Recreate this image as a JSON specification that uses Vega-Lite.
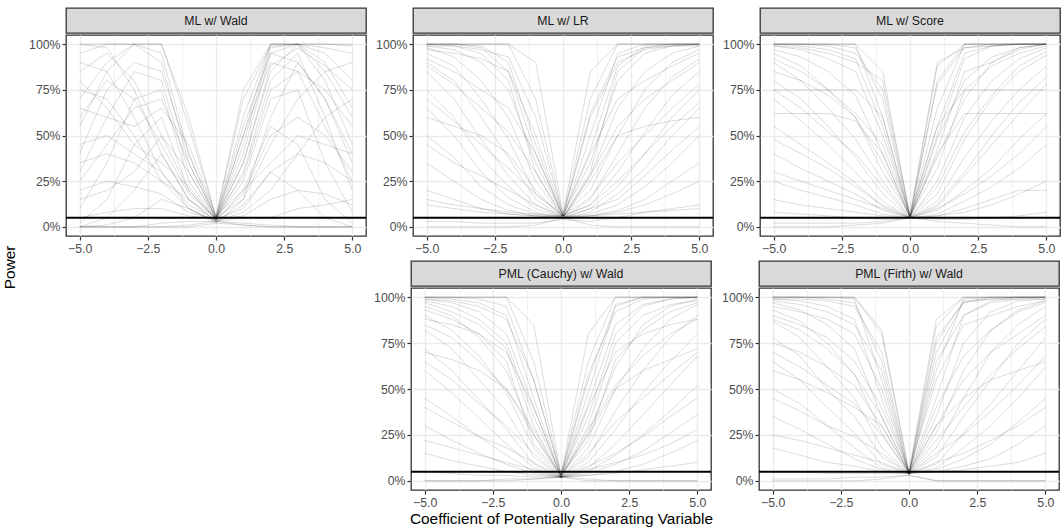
{
"$schema":"https://vega.github.io/schema/vega-lite/v6.json",
"padding":{"left":3,"top":7,"right":0,"bottom":0},
"config":{"font":"Liberation Sans","view":{"stroke":"#333333","strokeWidth":1.3},
"axis":{"domain":false,"tickColor":"#333333","tickSize":4,"tickWidth":1.2,"labelColor":"#4d4d4d","labelFontSize":12.3,"labelPadding":2,"gridColor":"#ebebeb","labelFlush":false,"labelOverlap":false,"titleFontWeight":"normal","titleColor":"#000000","titleFontSize":15.4,"titlePadding":3}},
"title":{"text":"Power","orient":"left","anchor":"middle","fontSize":15.4,"fontWeight":"normal","color":"#000000","offset":9},
"datasets":{
"d1":[
{"s":1,"x":-5,"y":100},{"s":1,"x":-4,"y":100},{"s":1,"x":-3,"y":100},{"s":1,"x":-2,"y":100},{"s":1,"x":-1,"y":55},{"s":1,"x":0,"y":5},{"s":1,"x":1,"y":60},{"s":1,"x":2,"y":100},{"s":1,"x":3,"y":100},{"s":1,"x":4,"y":100},{"s":1,"x":5,"y":99},
{"s":2,"x":-5,"y":70},{"s":2,"x":-4,"y":90},{"s":2,"x":-3,"y":100},{"s":2,"x":-2,"y":95},{"s":2,"x":-1,"y":40},{"s":2,"x":0,"y":4},{"s":2,"x":1,"y":45},{"s":2,"x":2,"y":98},{"s":2,"x":3,"y":100},{"s":2,"x":4,"y":95},{"s":2,"x":5,"y":80},
{"s":3,"x":-5,"y":30},{"s":3,"x":-4,"y":60},{"s":3,"x":-3,"y":85},{"s":3,"x":-2,"y":80},{"s":3,"x":-1,"y":30},{"s":3,"x":0,"y":5},{"s":3,"x":1,"y":35},{"s":3,"x":2,"y":85},{"s":3,"x":3,"y":100},{"s":3,"x":4,"y":80},{"s":3,"x":5,"y":45},
{"s":4,"x":-5,"y":10},{"s":4,"x":-4,"y":35},{"s":4,"x":-3,"y":70},{"s":4,"x":-2,"y":75},{"s":4,"x":-1,"y":25},{"s":4,"x":0,"y":4},{"s":4,"x":1,"y":30},{"s":4,"x":2,"y":80},{"s":4,"x":3,"y":95},{"s":4,"x":4,"y":60},{"s":4,"x":5,"y":20},
{"s":5,"x":-5,"y":2},{"s":5,"x":-4,"y":15},{"s":5,"x":-3,"y":45},{"s":5,"x":-2,"y":60},{"s":5,"x":-1,"y":20},{"s":5,"x":0,"y":4},{"s":5,"x":1,"y":25},{"s":5,"x":2,"y":70},{"s":5,"x":3,"y":75},{"s":5,"x":4,"y":35},{"s":5,"x":5,"y":8},
{"s":6,"x":-5,"y":0},{"s":6,"x":-4,"y":5},{"s":6,"x":-3,"y":20},{"s":6,"x":-2,"y":40},{"s":6,"x":-1,"y":15},{"s":6,"x":0,"y":3},{"s":6,"x":1,"y":20},{"s":6,"x":2,"y":55},{"s":6,"x":3,"y":45},{"s":6,"x":4,"y":15},{"s":6,"x":5,"y":2},
{"s":7,"x":-5,"y":0},{"s":7,"x":-4,"y":1},{"s":7,"x":-3,"y":5},{"s":7,"x":-2,"y":15},{"s":7,"x":-1,"y":10},{"s":7,"x":0,"y":3},{"s":7,"x":1,"y":12},{"s":7,"x":2,"y":30},{"s":7,"x":3,"y":20},{"s":7,"x":4,"y":5},{"s":7,"x":5,"y":0},
{"s":8,"x":-5,"y":0},{"s":8,"x":-4,"y":0},{"s":8,"x":-3,"y":0},{"s":8,"x":-2,"y":2},{"s":8,"x":-1,"y":3},{"s":8,"x":0,"y":3},{"s":8,"x":1,"y":2},{"s":8,"x":2,"y":1},{"s":8,"x":3,"y":0},{"s":8,"x":4,"y":0},{"s":8,"x":5,"y":0},
{"s":9,"x":-5,"y":0},{"s":9,"x":-4,"y":0},{"s":9,"x":-3,"y":0},{"s":9,"x":-2,"y":0},{"s":9,"x":-1,"y":1},{"s":9,"x":0,"y":3},{"s":9,"x":1,"y":1},{"s":9,"x":2,"y":0},{"s":9,"x":3,"y":0},{"s":9,"x":4,"y":0},{"s":9,"x":5,"y":0},
{"s":10,"x":-5,"y":95},{"s":10,"x":-4,"y":100},{"s":10,"x":-3,"y":100},{"s":10,"x":-2,"y":90},{"s":10,"x":-1,"y":35},{"s":10,"x":0,"y":5},{"s":10,"x":1,"y":50},{"s":10,"x":2,"y":100},{"s":10,"x":3,"y":100},{"s":10,"x":4,"y":100},{"s":10,"x":5,"y":100},
{"s":11,"x":-5,"y":85},{"s":11,"x":-4,"y":95},{"s":11,"x":-3,"y":80},{"s":11,"x":-2,"y":50},{"s":11,"x":-1,"y":20},{"s":11,"x":0,"y":4},{"s":11,"x":1,"y":40},{"s":11,"x":2,"y":95},{"s":11,"x":3,"y":90},{"s":11,"x":4,"y":70},{"s":11,"x":5,"y":40},
{"s":12,"x":-5,"y":60},{"s":12,"x":-4,"y":80},{"s":12,"x":-3,"y":70},{"s":12,"x":-2,"y":45},{"s":12,"x":-1,"y":18},{"s":12,"x":0,"y":5},{"s":12,"x":1,"y":28},{"s":12,"x":2,"y":75},{"s":12,"x":3,"y":85},{"s":12,"x":4,"y":75},{"s":12,"x":5,"y":55},
{"s":13,"x":-5,"y":45},{"s":13,"x":-4,"y":50},{"s":13,"x":-3,"y":40},{"s":13,"x":-2,"y":30},{"s":13,"x":-1,"y":12},{"s":13,"x":0,"y":4},{"s":13,"x":1,"y":18},{"s":13,"x":2,"y":50},{"s":13,"x":3,"y":60},{"s":13,"x":4,"y":50},{"s":13,"x":5,"y":30},
{"s":14,"x":-5,"y":20},{"s":14,"x":-4,"y":25},{"s":14,"x":-3,"y":22},{"s":14,"x":-2,"y":18},{"s":14,"x":-1,"y":8},{"s":14,"x":0,"y":4},{"s":14,"x":1,"y":10},{"s":14,"x":2,"y":30},{"s":14,"x":3,"y":40},{"s":14,"x":4,"y":35},{"s":14,"x":5,"y":25},
{"s":15,"x":-5,"y":5},{"s":15,"x":-4,"y":8},{"s":15,"x":-3,"y":10},{"s":15,"x":-2,"y":10},{"s":15,"x":-1,"y":6},{"s":15,"x":0,"y":4},{"s":15,"x":1,"y":6},{"s":15,"x":2,"y":15},{"s":15,"x":3,"y":20},{"s":15,"x":4,"y":18},{"s":15,"x":5,"y":12},
{"s":16,"x":-5,"y":75},{"s":16,"x":-4,"y":70},{"s":16,"x":-3,"y":50},{"s":16,"x":-2,"y":25},{"s":16,"x":-1,"y":10},{"s":16,"x":0,"y":3},{"s":16,"x":1,"y":8},{"s":16,"x":2,"y":20},{"s":16,"x":3,"y":40},{"s":16,"x":4,"y":60},{"s":16,"x":5,"y":70},
{"s":17,"x":-5,"y":100},{"s":17,"x":-4,"y":98},{"s":17,"x":-3,"y":75},{"s":17,"x":-2,"y":40},{"s":17,"x":-1,"y":15},{"s":17,"x":0,"y":5},{"s":17,"x":1,"y":15},{"s":17,"x":2,"y":45},{"s":17,"x":3,"y":70},{"s":17,"x":4,"y":85},{"s":17,"x":5,"y":90},
{"s":18,"x":-5,"y":40},{"s":18,"x":-4,"y":75},{"s":18,"x":-3,"y":90},{"s":18,"x":-2,"y":85},{"s":18,"x":-1,"y":40},{"s":18,"x":0,"y":6},{"s":18,"x":1,"y":70},{"s":18,"x":2,"y":99},{"s":18,"x":3,"y":100},{"s":18,"x":4,"y":98},{"s":18,"x":5,"y":95},
{"s":19,"x":-5,"y":90},{"s":19,"x":-4,"y":85},{"s":19,"x":-3,"y":60},{"s":19,"x":-2,"y":30},{"s":19,"x":-1,"y":10},{"s":19,"x":0,"y":2},{"s":19,"x":1,"y":1},{"s":19,"x":2,"y":0},{"s":19,"x":3,"y":0},{"s":19,"x":4,"y":0},{"s":19,"x":5,"y":0},
{"s":20,"x":-5,"y":0},{"s":20,"x":-4,"y":0},{"s":20,"x":-3,"y":0},{"s":20,"x":-2,"y":0},{"s":20,"x":-1,"y":0},{"s":20,"x":0,"y":2},{"s":20,"x":1,"y":15},{"s":20,"x":2,"y":60},{"s":20,"x":3,"y":90},{"s":20,"x":4,"y":70},{"s":20,"x":5,"y":35},
{"s":21,"x":-5,"y":55},{"s":21,"x":-4,"y":85},{"s":21,"x":-3,"y":100},{"s":21,"x":-2,"y":100},{"s":21,"x":-1,"y":60},{"s":21,"x":0,"y":5},{"s":21,"x":1,"y":75},{"s":21,"x":2,"y":100},{"s":21,"x":3,"y":100},{"s":21,"x":4,"y":90},{"s":21,"x":5,"y":65},
{"s":22,"x":-5,"y":25},{"s":22,"x":-4,"y":45},{"s":22,"x":-3,"y":65},{"s":22,"x":-2,"y":70},{"s":22,"x":-1,"y":35},{"s":22,"x":0,"y":5},{"s":22,"x":1,"y":55},{"s":22,"x":2,"y":95},{"s":22,"x":3,"y":100},{"s":22,"x":4,"y":85},{"s":22,"x":5,"y":60},
{"s":23,"x":-5,"y":80},{"s":23,"x":-4,"y":65},{"s":23,"x":-3,"y":45},{"s":23,"x":-2,"y":35},{"s":23,"x":-1,"y":22},{"s":23,"x":0,"y":4},{"s":23,"x":1,"y":35},{"s":23,"x":2,"y":88},{"s":23,"x":3,"y":98},{"s":23,"x":4,"y":88},{"s":23,"x":5,"y":75},
{"s":24,"x":-5,"y":15},{"s":24,"x":-4,"y":20},{"s":24,"x":-3,"y":30},{"s":24,"x":-2,"y":50},{"s":24,"x":-1,"y":30},{"s":24,"x":0,"y":4},{"s":24,"x":1,"y":50},{"s":24,"x":2,"y":90},{"s":24,"x":3,"y":85},{"s":24,"x":4,"y":55},{"s":24,"x":5,"y":25},
{"s":25,"x":-5,"y":65},{"s":25,"x":-4,"y":60},{"s":25,"x":-3,"y":55},{"s":25,"x":-2,"y":65},{"s":25,"x":-1,"y":45},{"s":25,"x":0,"y":6},{"s":25,"x":1,"y":20},{"s":25,"x":2,"y":35},{"s":25,"x":3,"y":50},{"s":25,"x":4,"y":45},{"s":25,"x":5,"y":40},
{"s":26,"x":-5,"y":35},{"s":26,"x":-4,"y":40},{"s":26,"x":-3,"y":35},{"s":26,"x":-2,"y":25},{"s":26,"x":-1,"y":15},{"s":26,"x":0,"y":3},{"s":26,"x":1,"y":5},{"s":26,"x":2,"y":5},{"s":26,"x":3,"y":10},{"s":26,"x":4,"y":12},{"s":26,"x":5,"y":15}
],
"d2":[
{"s":1,"x":-5,"y":100},{"s":1,"x":-4,"y":100},{"s":1,"x":-3,"y":100},{"s":1,"x":-2,"y":100},{"s":1,"x":-1,"y":70},{"s":1,"x":0,"y":6},{"s":1,"x":1,"y":70},{"s":1,"x":2,"y":100},{"s":1,"x":3,"y":100},{"s":1,"x":4,"y":100},{"s":1,"x":5,"y":100},
{"s":2,"x":-5,"y":100},{"s":2,"x":-4,"y":100},{"s":2,"x":-3,"y":99},{"s":2,"x":-2,"y":90},{"s":2,"x":-1,"y":45},{"s":2,"x":0,"y":5},{"s":2,"x":1,"y":50},{"s":2,"x":2,"y":95},{"s":2,"x":3,"y":100},{"s":2,"x":4,"y":100},{"s":2,"x":5,"y":100},
{"s":3,"x":-5,"y":99},{"s":3,"x":-4,"y":97},{"s":3,"x":-3,"y":90},{"s":3,"x":-2,"y":75},{"s":3,"x":-1,"y":35},{"s":3,"x":0,"y":6},{"s":3,"x":1,"y":35},{"s":3,"x":2,"y":80},{"s":3,"x":3,"y":95},{"s":3,"x":4,"y":99},{"s":3,"x":5,"y":100},
{"s":4,"x":-5,"y":98},{"s":4,"x":-4,"y":93},{"s":4,"x":-3,"y":80},{"s":4,"x":-2,"y":60},{"s":4,"x":-1,"y":25},{"s":4,"x":0,"y":5},{"s":4,"x":1,"y":28},{"s":4,"x":2,"y":65},{"s":4,"x":3,"y":85},{"s":4,"x":4,"y":95},{"s":4,"x":5,"y":99},
{"s":5,"x":-5,"y":95},{"s":5,"x":-4,"y":88},{"s":5,"x":-3,"y":70},{"s":5,"x":-2,"y":48},{"s":5,"x":-1,"y":18},{"s":5,"x":0,"y":6},{"s":5,"x":1,"y":20},{"s":5,"x":2,"y":50},{"s":5,"x":3,"y":75},{"s":5,"x":4,"y":90},{"s":5,"x":5,"y":97},
{"s":6,"x":-5,"y":90},{"s":6,"x":-4,"y":80},{"s":6,"x":-3,"y":60},{"s":6,"x":-2,"y":38},{"s":6,"x":-1,"y":15},{"s":6,"x":0,"y":5},{"s":6,"x":1,"y":15},{"s":6,"x":2,"y":40},{"s":6,"x":3,"y":65},{"s":6,"x":4,"y":82},{"s":6,"x":5,"y":92},
{"s":7,"x":-5,"y":85},{"s":7,"x":-4,"y":70},{"s":7,"x":-3,"y":48},{"s":7,"x":-2,"y":28},{"s":7,"x":-1,"y":12},{"s":7,"x":0,"y":6},{"s":7,"x":1,"y":12},{"s":7,"x":2,"y":30},{"s":7,"x":3,"y":52},{"s":7,"x":4,"y":72},{"s":7,"x":5,"y":85},
{"s":8,"x":-5,"y":75},{"s":8,"x":-4,"y":60},{"s":8,"x":-3,"y":38},{"s":8,"x":-2,"y":22},{"s":8,"x":-1,"y":10},{"s":8,"x":0,"y":5},{"s":8,"x":1,"y":10},{"s":8,"x":2,"y":22},{"s":8,"x":3,"y":40},{"s":8,"x":4,"y":60},{"s":8,"x":5,"y":75},
{"s":9,"x":-5,"y":65},{"s":9,"x":-4,"y":50},{"s":9,"x":-3,"y":30},{"s":9,"x":-2,"y":16},{"s":9,"x":-1,"y":8},{"s":9,"x":0,"y":5},{"s":9,"x":1,"y":8},{"s":9,"x":2,"y":18},{"s":9,"x":3,"y":32},{"s":9,"x":4,"y":50},{"s":9,"x":5,"y":65},
{"s":10,"x":-5,"y":50},{"s":10,"x":-4,"y":38},{"s":10,"x":-3,"y":22},{"s":10,"x":-2,"y":12},{"s":10,"x":-1,"y":7},{"s":10,"x":0,"y":5},{"s":10,"x":1,"y":7},{"s":10,"x":2,"y":12},{"s":10,"x":3,"y":22},{"s":10,"x":4,"y":35},{"s":10,"x":5,"y":50},
{"s":11,"x":-5,"y":35},{"s":11,"x":-4,"y":25},{"s":11,"x":-3,"y":15},{"s":11,"x":-2,"y":9},{"s":11,"x":-1,"y":6},{"s":11,"x":0,"y":5},{"s":11,"x":1,"y":6},{"s":11,"x":2,"y":9},{"s":11,"x":3,"y":15},{"s":11,"x":4,"y":25},{"s":11,"x":5,"y":35},
{"s":12,"x":-5,"y":20},{"s":12,"x":-4,"y":15},{"s":12,"x":-3,"y":10},{"s":12,"x":-2,"y":7},{"s":12,"x":-1,"y":6},{"s":12,"x":0,"y":5},{"s":12,"x":1,"y":6},{"s":12,"x":2,"y":8},{"s":12,"x":3,"y":12},{"s":12,"x":4,"y":18},{"s":12,"x":5,"y":25},
{"s":13,"x":-5,"y":12},{"s":13,"x":-4,"y":10},{"s":13,"x":-3,"y":8},{"s":13,"x":-2,"y":7},{"s":13,"x":-1,"y":6},{"s":13,"x":0,"y":6},{"s":13,"x":1,"y":6},{"s":13,"x":2,"y":7},{"s":13,"x":3,"y":8},{"s":13,"x":4,"y":9},{"s":13,"x":5,"y":10},
{"s":14,"x":-5,"y":0},{"s":14,"x":-4,"y":0},{"s":14,"x":-3,"y":0},{"s":14,"x":-2,"y":0},{"s":14,"x":-1,"y":1},{"s":14,"x":0,"y":5},{"s":14,"x":1,"y":1},{"s":14,"x":2,"y":0},{"s":14,"x":3,"y":0},{"s":14,"x":4,"y":0},{"s":14,"x":5,"y":0},
{"s":15,"x":-5,"y":100},{"s":15,"x":-4,"y":100},{"s":15,"x":-3,"y":100},{"s":15,"x":-2,"y":100},{"s":15,"x":-1,"y":90},{"s":15,"x":0,"y":7},{"s":15,"x":1,"y":85},{"s":15,"x":2,"y":100},{"s":15,"x":3,"y":100},{"s":15,"x":4,"y":100},{"s":15,"x":5,"y":100},
{"s":16,"x":-5,"y":97},{"s":16,"x":-4,"y":95},{"s":16,"x":-3,"y":92},{"s":16,"x":-2,"y":85},{"s":16,"x":-1,"y":50},{"s":16,"x":0,"y":6},{"s":16,"x":1,"y":60},{"s":16,"x":2,"y":90},{"s":16,"x":3,"y":97},{"s":16,"x":4,"y":99},{"s":16,"x":5,"y":100},
{"s":17,"x":-5,"y":60},{"s":17,"x":-4,"y":55},{"s":17,"x":-3,"y":50},{"s":17,"x":-2,"y":40},{"s":17,"x":-1,"y":20},{"s":17,"x":0,"y":5},{"s":17,"x":1,"y":25},{"s":17,"x":2,"y":50},{"s":17,"x":3,"y":55},{"s":17,"x":4,"y":58},{"s":17,"x":5,"y":60},
{"s":18,"x":-5,"y":3},{"s":18,"x":-4,"y":3},{"s":18,"x":-3,"y":2},{"s":18,"x":-2,"y":2},{"s":18,"x":-1,"y":2},{"s":18,"x":0,"y":4},{"s":18,"x":1,"y":3},{"s":18,"x":2,"y":5},{"s":18,"x":3,"y":8},{"s":18,"x":4,"y":10},{"s":18,"x":5,"y":12},
{"s":19,"x":-5,"y":92},{"s":19,"x":-4,"y":85},{"s":19,"x":-3,"y":75},{"s":19,"x":-2,"y":65},{"s":19,"x":-1,"y":40},{"s":19,"x":0,"y":6},{"s":19,"x":1,"y":40},{"s":19,"x":2,"y":70},{"s":19,"x":3,"y":80},{"s":19,"x":4,"y":88},{"s":19,"x":5,"y":95},
{"s":20,"x":-5,"y":99},{"s":20,"x":-4,"y":99},{"s":20,"x":-3,"y":95},{"s":20,"x":-2,"y":80},{"s":20,"x":-1,"y":30},{"s":20,"x":0,"y":5},{"s":20,"x":1,"y":30},{"s":20,"x":2,"y":85},{"s":20,"x":3,"y":98},{"s":20,"x":4,"y":99},{"s":20,"x":5,"y":99},
{"s":21,"x":-5,"y":100},{"s":21,"x":-4,"y":99},{"s":21,"x":-3,"y":97},{"s":21,"x":-2,"y":93},{"s":21,"x":-1,"y":60},{"s":21,"x":0,"y":6},{"s":21,"x":1,"y":62},{"s":21,"x":2,"y":93},{"s":21,"x":3,"y":98},{"s":21,"x":4,"y":100},{"s":21,"x":5,"y":100},
{"s":22,"x":-5,"y":88},{"s":22,"x":-4,"y":78},{"s":22,"x":-3,"y":65},{"s":22,"x":-2,"y":52},{"s":22,"x":-1,"y":30},{"s":22,"x":0,"y":5},{"s":22,"x":1,"y":28},{"s":22,"x":2,"y":55},{"s":22,"x":3,"y":70},{"s":22,"x":4,"y":80},{"s":22,"x":5,"y":90},
{"s":23,"x":-5,"y":70},{"s":23,"x":-4,"y":58},{"s":23,"x":-3,"y":45},{"s":23,"x":-2,"y":32},{"s":23,"x":-1,"y":18},{"s":23,"x":0,"y":6},{"s":23,"x":1,"y":16},{"s":23,"x":2,"y":35},{"s":23,"x":3,"y":50},{"s":23,"x":4,"y":65},{"s":23,"x":5,"y":78},
{"s":24,"x":-5,"y":45},{"s":24,"x":-4,"y":35},{"s":24,"x":-3,"y":28},{"s":24,"x":-2,"y":20},{"s":24,"x":-1,"y":12},{"s":24,"x":0,"y":5},{"s":24,"x":1,"y":10},{"s":24,"x":2,"y":15},{"s":24,"x":3,"y":28},{"s":24,"x":4,"y":42},{"s":24,"x":5,"y":55},
{"s":25,"x":-5,"y":15},{"s":25,"x":-4,"y":12},{"s":25,"x":-3,"y":10},{"s":25,"x":-2,"y":8},{"s":25,"x":-1,"y":7},{"s":25,"x":0,"y":6},{"s":25,"x":1,"y":12},{"s":25,"x":2,"y":25},{"s":25,"x":3,"y":40},{"s":25,"x":4,"y":55},{"s":25,"x":5,"y":68},
{"s":26,"x":-5,"y":100},{"s":26,"x":-4,"y":100},{"s":26,"x":-3,"y":98},{"s":26,"x":-2,"y":85},{"s":26,"x":-1,"y":40},{"s":26,"x":0,"y":6},{"s":26,"x":1,"y":42},{"s":26,"x":2,"y":88},{"s":26,"x":3,"y":99},{"s":26,"x":4,"y":100},{"s":26,"x":5,"y":100}
],
"d3":[
{"s":1,"x":-5,"y":100},{"s":1,"x":-4,"y":100},{"s":1,"x":-3,"y":100},{"s":1,"x":-2,"y":100},{"s":1,"x":-1,"y":85},{"s":1,"x":0,"y":5},{"s":1,"x":1,"y":80},{"s":1,"x":2,"y":100},{"s":1,"x":3,"y":100},{"s":1,"x":4,"y":100},{"s":1,"x":5,"y":100},
{"s":2,"x":-5,"y":100},{"s":2,"x":-4,"y":100},{"s":2,"x":-3,"y":100},{"s":2,"x":-2,"y":98},{"s":2,"x":-1,"y":70},{"s":2,"x":0,"y":5},{"s":2,"x":1,"y":65},{"s":2,"x":2,"y":100},{"s":2,"x":3,"y":100},{"s":2,"x":4,"y":100},{"s":2,"x":5,"y":100},
{"s":3,"x":-5,"y":99},{"s":3,"x":-4,"y":97},{"s":3,"x":-3,"y":92},{"s":3,"x":-2,"y":85},{"s":3,"x":-1,"y":50},{"s":3,"x":0,"y":6},{"s":3,"x":1,"y":55},{"s":3,"x":2,"y":95},{"s":3,"x":3,"y":99},{"s":3,"x":4,"y":100},{"s":3,"x":5,"y":100},
{"s":4,"x":-5,"y":97},{"s":4,"x":-4,"y":93},{"s":4,"x":-3,"y":85},{"s":4,"x":-2,"y":72},{"s":4,"x":-1,"y":40},{"s":4,"x":0,"y":5},{"s":4,"x":1,"y":42},{"s":4,"x":2,"y":85},{"s":4,"x":3,"y":90},{"s":4,"x":4,"y":97},{"s":4,"x":5,"y":100},
{"s":5,"x":-5,"y":95},{"s":5,"x":-4,"y":88},{"s":5,"x":-3,"y":75},{"s":5,"x":-2,"y":60},{"s":5,"x":-1,"y":30},{"s":5,"x":0,"y":6},{"s":5,"x":1,"y":32},{"s":5,"x":2,"y":75},{"s":5,"x":3,"y":88},{"s":5,"x":4,"y":95},{"s":5,"x":5,"y":99},
{"s":6,"x":-5,"y":90},{"s":6,"x":-4,"y":80},{"s":6,"x":-3,"y":65},{"s":6,"x":-2,"y":48},{"s":6,"x":-1,"y":25},{"s":6,"x":0,"y":5},{"s":6,"x":1,"y":25},{"s":6,"x":2,"y":60},{"s":6,"x":3,"y":80},{"s":6,"x":4,"y":92},{"s":6,"x":5,"y":98},
{"s":7,"x":-5,"y":80},{"s":7,"x":-4,"y":70},{"s":7,"x":-3,"y":55},{"s":7,"x":-2,"y":38},{"s":7,"x":-1,"y":18},{"s":7,"x":0,"y":5},{"s":7,"x":1,"y":18},{"s":7,"x":2,"y":48},{"s":7,"x":3,"y":70},{"s":7,"x":4,"y":85},{"s":7,"x":5,"y":94},
{"s":8,"x":-5,"y":70},{"s":8,"x":-4,"y":58},{"s":8,"x":-3,"y":45},{"s":8,"x":-2,"y":30},{"s":8,"x":-1,"y":14},{"s":8,"x":0,"y":5},{"s":8,"x":1,"y":14},{"s":8,"x":2,"y":38},{"s":8,"x":3,"y":58},{"s":8,"x":4,"y":75},{"s":8,"x":5,"y":88},
{"s":9,"x":-5,"y":55},{"s":9,"x":-4,"y":45},{"s":9,"x":-3,"y":35},{"s":9,"x":-2,"y":24},{"s":9,"x":-1,"y":11},{"s":9,"x":0,"y":5},{"s":9,"x":1,"y":11},{"s":9,"x":2,"y":28},{"s":9,"x":3,"y":45},{"s":9,"x":4,"y":62},{"s":9,"x":5,"y":78},
{"s":10,"x":-5,"y":40},{"s":10,"x":-4,"y":32},{"s":10,"x":-3,"y":25},{"s":10,"x":-2,"y":18},{"s":10,"x":-1,"y":9},{"s":10,"x":0,"y":5},{"s":10,"x":1,"y":9},{"s":10,"x":2,"y":20},{"s":10,"x":3,"y":32},{"s":10,"x":4,"y":48},{"s":10,"x":5,"y":62},
{"s":11,"x":-5,"y":25},{"s":11,"x":-4,"y":20},{"s":11,"x":-3,"y":16},{"s":11,"x":-2,"y":12},{"s":11,"x":-1,"y":7},{"s":11,"x":0,"y":5},{"s":11,"x":1,"y":7},{"s":11,"x":2,"y":14},{"s":11,"x":3,"y":22},{"s":11,"x":4,"y":32},{"s":11,"x":5,"y":45},
{"s":12,"x":-5,"y":15},{"s":12,"x":-4,"y":12},{"s":12,"x":-3,"y":10},{"s":12,"x":-2,"y":8},{"s":12,"x":-1,"y":6},{"s":12,"x":0,"y":5},{"s":12,"x":1,"y":6},{"s":12,"x":2,"y":8},{"s":12,"x":3,"y":12},{"s":12,"x":4,"y":18},{"s":12,"x":5,"y":25},
{"s":13,"x":-5,"y":0},{"s":13,"x":-4,"y":0},{"s":13,"x":-3,"y":0},{"s":13,"x":-2,"y":1},{"s":13,"x":-1,"y":2},{"s":13,"x":0,"y":5},{"s":13,"x":1,"y":3},{"s":13,"x":2,"y":2},{"s":13,"x":3,"y":1},{"s":13,"x":4,"y":0},{"s":13,"x":5,"y":0},
{"s":14,"x":-5,"y":75},{"s":14,"x":-4,"y":75},{"s":14,"x":-3,"y":75},{"s":14,"x":-2,"y":75},{"s":14,"x":-1,"y":60},{"s":14,"x":0,"y":6},{"s":14,"x":1,"y":55},{"s":14,"x":2,"y":75},{"s":14,"x":3,"y":75},{"s":14,"x":4,"y":75},{"s":14,"x":5,"y":75},
{"s":15,"x":-5,"y":62},{"s":15,"x":-4,"y":62},{"s":15,"x":-3,"y":62},{"s":15,"x":-2,"y":58},{"s":15,"x":-1,"y":40},{"s":15,"x":0,"y":5},{"s":15,"x":1,"y":40},{"s":15,"x":2,"y":62},{"s":15,"x":3,"y":62},{"s":15,"x":4,"y":62},{"s":15,"x":5,"y":62},
{"s":16,"x":-5,"y":100},{"s":16,"x":-4,"y":100},{"s":16,"x":-3,"y":100},{"s":16,"x":-2,"y":100},{"s":16,"x":-1,"y":60},{"s":16,"x":0,"y":5},{"s":16,"x":1,"y":88},{"s":16,"x":2,"y":100},{"s":16,"x":3,"y":100},{"s":16,"x":4,"y":100},{"s":16,"x":5,"y":100},
{"s":17,"x":-5,"y":99},{"s":17,"x":-4,"y":98},{"s":17,"x":-3,"y":95},{"s":17,"x":-2,"y":90},{"s":17,"x":-1,"y":80},{"s":17,"x":0,"y":7},{"s":17,"x":1,"y":90},{"s":17,"x":2,"y":98},{"s":17,"x":3,"y":99},{"s":17,"x":4,"y":100},{"s":17,"x":5,"y":100},
{"s":18,"x":-5,"y":2},{"s":18,"x":-4,"y":2},{"s":18,"x":-3,"y":2},{"s":18,"x":-2,"y":2},{"s":18,"x":-1,"y":3},{"s":18,"x":0,"y":5},{"s":18,"x":1,"y":6},{"s":18,"x":2,"y":10},{"s":18,"x":3,"y":15},{"s":18,"x":4,"y":20},{"s":18,"x":5,"y":20},
{"s":19,"x":-5,"y":85},{"s":19,"x":-4,"y":80},{"s":19,"x":-3,"y":72},{"s":19,"x":-2,"y":60},{"s":19,"x":-1,"y":35},{"s":19,"x":0,"y":6},{"s":19,"x":1,"y":38},{"s":19,"x":2,"y":70},{"s":19,"x":3,"y":90},{"s":19,"x":4,"y":98},{"s":19,"x":5,"y":100},
{"s":20,"x":-5,"y":100},{"s":20,"x":-4,"y":99},{"s":20,"x":-3,"y":97},{"s":20,"x":-2,"y":92},{"s":20,"x":-1,"y":55},{"s":20,"x":0,"y":5},{"s":20,"x":1,"y":50},{"s":20,"x":2,"y":92},{"s":20,"x":3,"y":99},{"s":20,"x":4,"y":100},{"s":20,"x":5,"y":100},
{"s":21,"x":-5,"y":100},{"s":21,"x":-4,"y":100},{"s":21,"x":-3,"y":99},{"s":21,"x":-2,"y":95},{"s":21,"x":-1,"y":75},{"s":21,"x":0,"y":6},{"s":21,"x":1,"y":78},{"s":21,"x":2,"y":98},{"s":21,"x":3,"y":100},{"s":21,"x":4,"y":100},{"s":21,"x":5,"y":100},
{"s":22,"x":-5,"y":92},{"s":22,"x":-4,"y":85},{"s":22,"x":-3,"y":75},{"s":22,"x":-2,"y":62},{"s":22,"x":-1,"y":45},{"s":22,"x":0,"y":5},{"s":22,"x":1,"y":48},{"s":22,"x":2,"y":80},{"s":22,"x":3,"y":93},{"s":22,"x":4,"y":98},{"s":22,"x":5,"y":100},
{"s":23,"x":-5,"y":75},{"s":23,"x":-4,"y":65},{"s":23,"x":-3,"y":52},{"s":23,"x":-2,"y":40},{"s":23,"x":-1,"y":22},{"s":23,"x":0,"y":5},{"s":23,"x":1,"y":22},{"s":23,"x":2,"y":52},{"s":23,"x":3,"y":72},{"s":23,"x":4,"y":88},{"s":23,"x":5,"y":96},
{"s":24,"x":-5,"y":48},{"s":24,"x":-4,"y":40},{"s":24,"x":-3,"y":32},{"s":24,"x":-2,"y":22},{"s":24,"x":-1,"y":12},{"s":24,"x":0,"y":5},{"s":24,"x":1,"y":12},{"s":24,"x":2,"y":30},{"s":24,"x":3,"y":50},{"s":24,"x":4,"y":68},{"s":24,"x":5,"y":82},
{"s":25,"x":-5,"y":30},{"s":25,"x":-4,"y":25},{"s":25,"x":-3,"y":20},{"s":25,"x":-2,"y":15},{"s":25,"x":-1,"y":10},{"s":25,"x":0,"y":5},{"s":25,"x":1,"y":10},{"s":25,"x":2,"y":18},{"s":25,"x":3,"y":28},{"s":25,"x":4,"y":40},{"s":25,"x":5,"y":55},
{"s":26,"x":-5,"y":8},{"s":26,"x":-4,"y":7},{"s":26,"x":-3,"y":6},{"s":26,"x":-2,"y":5},{"s":26,"x":-1,"y":4},{"s":26,"x":0,"y":5},{"s":26,"x":1,"y":4},{"s":26,"x":2,"y":4},{"s":26,"x":3,"y":5},{"s":26,"x":4,"y":6},{"s":26,"x":5,"y":8}
],
"d4":[
{"s":1,"x":-5,"y":100},{"s":1,"x":-4,"y":100},{"s":1,"x":-3,"y":100},{"s":1,"x":-2,"y":100},{"s":1,"x":-1,"y":65},{"s":1,"x":0,"y":3},{"s":1,"x":1,"y":65},{"s":1,"x":2,"y":100},{"s":1,"x":3,"y":100},{"s":1,"x":4,"y":100},{"s":1,"x":5,"y":100},
{"s":2,"x":-5,"y":100},{"s":2,"x":-4,"y":99},{"s":2,"x":-3,"y":97},{"s":2,"x":-2,"y":90},{"s":2,"x":-1,"y":45},{"s":2,"x":0,"y":2},{"s":2,"x":1,"y":48},{"s":2,"x":2,"y":95},{"s":2,"x":3,"y":100},{"s":2,"x":4,"y":100},{"s":2,"x":5,"y":100},
{"s":3,"x":-5,"y":98},{"s":3,"x":-4,"y":95},{"s":3,"x":-3,"y":88},{"s":3,"x":-2,"y":75},{"s":3,"x":-1,"y":35},{"s":3,"x":0,"y":3},{"s":3,"x":1,"y":35},{"s":3,"x":2,"y":80},{"s":3,"x":3,"y":95},{"s":3,"x":4,"y":99},{"s":3,"x":5,"y":100},
{"s":4,"x":-5,"y":95},{"s":4,"x":-4,"y":90},{"s":4,"x":-3,"y":78},{"s":4,"x":-2,"y":60},{"s":4,"x":-1,"y":25},{"s":4,"x":0,"y":2},{"s":4,"x":1,"y":26},{"s":4,"x":2,"y":62},{"s":4,"x":3,"y":85},{"s":4,"x":4,"y":95},{"s":4,"x":5,"y":99},
{"s":5,"x":-5,"y":90},{"s":5,"x":-4,"y":82},{"s":5,"x":-3,"y":68},{"s":5,"x":-2,"y":48},{"s":5,"x":-1,"y":18},{"s":5,"x":0,"y":2},{"s":5,"x":1,"y":18},{"s":5,"x":2,"y":50},{"s":5,"x":3,"y":72},{"s":5,"x":4,"y":88},{"s":5,"x":5,"y":96},
{"s":6,"x":-5,"y":82},{"s":6,"x":-4,"y":72},{"s":6,"x":-3,"y":55},{"s":6,"x":-2,"y":38},{"s":6,"x":-1,"y":13},{"s":6,"x":0,"y":2},{"s":6,"x":1,"y":13},{"s":6,"x":2,"y":38},{"s":6,"x":3,"y":60},{"s":6,"x":4,"y":78},{"s":6,"x":5,"y":90},
{"s":7,"x":-5,"y":72},{"s":7,"x":-4,"y":60},{"s":7,"x":-3,"y":44},{"s":7,"x":-2,"y":28},{"s":7,"x":-1,"y":9},{"s":7,"x":0,"y":2},{"s":7,"x":1,"y":10},{"s":7,"x":2,"y":28},{"s":7,"x":3,"y":48},{"s":7,"x":4,"y":65},{"s":7,"x":5,"y":80},
{"s":8,"x":-5,"y":60},{"s":8,"x":-4,"y":48},{"s":8,"x":-3,"y":34},{"s":8,"x":-2,"y":20},{"s":8,"x":-1,"y":7},{"s":8,"x":0,"y":2},{"s":8,"x":1,"y":7},{"s":8,"x":2,"y":20},{"s":8,"x":3,"y":36},{"s":8,"x":4,"y":52},{"s":8,"x":5,"y":68},
{"s":9,"x":-5,"y":45},{"s":9,"x":-4,"y":35},{"s":9,"x":-3,"y":24},{"s":9,"x":-2,"y":14},{"s":9,"x":-1,"y":5},{"s":9,"x":0,"y":2},{"s":9,"x":1,"y":5},{"s":9,"x":2,"y":14},{"s":9,"x":3,"y":25},{"s":9,"x":4,"y":38},{"s":9,"x":5,"y":52},
{"s":10,"x":-5,"y":30},{"s":10,"x":-4,"y":22},{"s":10,"x":-3,"y":15},{"s":10,"x":-2,"y":9},{"s":10,"x":-1,"y":4},{"s":10,"x":0,"y":2},{"s":10,"x":1,"y":4},{"s":10,"x":2,"y":9},{"s":10,"x":3,"y":16},{"s":10,"x":4,"y":26},{"s":10,"x":5,"y":36},
{"s":11,"x":-5,"y":15},{"s":11,"x":-4,"y":11},{"s":11,"x":-3,"y":8},{"s":11,"x":-2,"y":5},{"s":11,"x":-1,"y":3},{"s":11,"x":0,"y":2},{"s":11,"x":1,"y":3},{"s":11,"x":2,"y":5},{"s":11,"x":3,"y":9},{"s":11,"x":4,"y":15},{"s":11,"x":5,"y":22},
{"s":12,"x":-5,"y":0},{"s":12,"x":-4,"y":0},{"s":12,"x":-3,"y":0},{"s":12,"x":-2,"y":0},{"s":12,"x":-1,"y":1},{"s":12,"x":0,"y":2},{"s":12,"x":1,"y":0},{"s":12,"x":2,"y":0},{"s":12,"x":3,"y":0},{"s":12,"x":4,"y":0},{"s":12,"x":5,"y":0},
{"s":13,"x":-5,"y":100},{"s":13,"x":-4,"y":100},{"s":13,"x":-3,"y":100},{"s":13,"x":-2,"y":100},{"s":13,"x":-1,"y":85},{"s":13,"x":0,"y":3},{"s":13,"x":1,"y":80},{"s":13,"x":2,"y":100},{"s":13,"x":3,"y":100},{"s":13,"x":4,"y":100},{"s":13,"x":5,"y":100},
{"s":14,"x":-5,"y":99},{"s":14,"x":-4,"y":98},{"s":14,"x":-3,"y":95},{"s":14,"x":-2,"y":88},{"s":14,"x":-1,"y":55},{"s":14,"x":0,"y":3},{"s":14,"x":1,"y":58},{"s":14,"x":2,"y":92},{"s":14,"x":3,"y":99},{"s":14,"x":4,"y":100},{"s":14,"x":5,"y":100},
{"s":15,"x":-5,"y":88},{"s":15,"x":-4,"y":85},{"s":15,"x":-3,"y":80},{"s":15,"x":-2,"y":70},{"s":15,"x":-1,"y":40},{"s":15,"x":0,"y":2},{"s":15,"x":1,"y":40},{"s":15,"x":2,"y":70},{"s":15,"x":3,"y":80},{"s":15,"x":4,"y":85},{"s":15,"x":5,"y":88},
{"s":16,"x":-5,"y":5},{"s":16,"x":-4,"y":4},{"s":16,"x":-3,"y":3},{"s":16,"x":-2,"y":3},{"s":16,"x":-1,"y":2},{"s":16,"x":0,"y":2},{"s":16,"x":1,"y":3},{"s":16,"x":2,"y":4},{"s":16,"x":3,"y":6},{"s":16,"x":4,"y":8},{"s":16,"x":5,"y":10},
{"s":17,"x":-5,"y":70},{"s":17,"x":-4,"y":66},{"s":17,"x":-3,"y":60},{"s":17,"x":-2,"y":50},{"s":17,"x":-1,"y":25},{"s":17,"x":0,"y":3},{"s":17,"x":1,"y":25},{"s":17,"x":2,"y":50},{"s":17,"x":3,"y":60},{"s":17,"x":4,"y":66},{"s":17,"x":5,"y":72},
{"s":18,"x":-5,"y":97},{"s":18,"x":-4,"y":92},{"s":18,"x":-3,"y":85},{"s":18,"x":-2,"y":72},{"s":18,"x":-1,"y":30},{"s":18,"x":0,"y":2},{"s":18,"x":1,"y":30},{"s":18,"x":2,"y":75},{"s":18,"x":3,"y":90},{"s":18,"x":4,"y":96},{"s":18,"x":5,"y":98},
{"s":19,"x":-5,"y":0},{"s":19,"x":-4,"y":0},{"s":19,"x":-3,"y":0},{"s":19,"x":-2,"y":1},{"s":19,"x":-1,"y":1},{"s":19,"x":0,"y":2},{"s":19,"x":1,"y":1},{"s":19,"x":2,"y":0},{"s":19,"x":3,"y":0},{"s":19,"x":4,"y":0},{"s":19,"x":5,"y":0},
{"s":20,"x":-5,"y":93},{"s":20,"x":-4,"y":88},{"s":20,"x":-3,"y":80},{"s":20,"x":-2,"y":65},{"s":20,"x":-1,"y":20},{"s":20,"x":0,"y":3},{"s":20,"x":1,"y":22},{"s":20,"x":2,"y":66},{"s":20,"x":3,"y":82},{"s":20,"x":4,"y":92},{"s":20,"x":5,"y":97},
{"s":21,"x":-5,"y":100},{"s":21,"x":-4,"y":100},{"s":21,"x":-3,"y":99},{"s":21,"x":-2,"y":95},{"s":21,"x":-1,"y":55},{"s":21,"x":0,"y":3},{"s":21,"x":1,"y":55},{"s":21,"x":2,"y":96},{"s":21,"x":3,"y":100},{"s":21,"x":4,"y":100},{"s":21,"x":5,"y":100},
{"s":22,"x":-5,"y":85},{"s":22,"x":-4,"y":78},{"s":22,"x":-3,"y":65},{"s":22,"x":-2,"y":50},{"s":22,"x":-1,"y":28},{"s":22,"x":0,"y":2},{"s":22,"x":1,"y":28},{"s":22,"x":2,"y":52},{"s":22,"x":3,"y":68},{"s":22,"x":4,"y":80},{"s":22,"x":5,"y":88},
{"s":23,"x":-5,"y":65},{"s":23,"x":-4,"y":55},{"s":23,"x":-3,"y":42},{"s":23,"x":-2,"y":30},{"s":23,"x":-1,"y":15},{"s":23,"x":0,"y":2},{"s":23,"x":1,"y":15},{"s":23,"x":2,"y":32},{"s":23,"x":3,"y":45},{"s":23,"x":4,"y":58},{"s":23,"x":5,"y":70},
{"s":24,"x":-5,"y":40},{"s":24,"x":-4,"y":32},{"s":24,"x":-3,"y":24},{"s":24,"x":-2,"y":18},{"s":24,"x":-1,"y":10},{"s":24,"x":0,"y":2},{"s":24,"x":1,"y":8},{"s":24,"x":2,"y":15},{"s":24,"x":3,"y":24},{"s":24,"x":4,"y":35},{"s":24,"x":5,"y":45},
{"s":25,"x":-5,"y":22},{"s":25,"x":-4,"y":18},{"s":25,"x":-3,"y":14},{"s":25,"x":-2,"y":10},{"s":25,"x":-1,"y":6},{"s":25,"x":0,"y":2},{"s":25,"x":1,"y":6},{"s":25,"x":2,"y":10},{"s":25,"x":3,"y":14},{"s":25,"x":4,"y":20},{"s":25,"x":5,"y":28},
{"s":26,"x":-5,"y":99},{"s":26,"x":-4,"y":97},{"s":26,"x":-3,"y":92},{"s":26,"x":-2,"y":80},{"s":26,"x":-1,"y":40},{"s":26,"x":0,"y":3},{"s":26,"x":1,"y":42},{"s":26,"x":2,"y":85},{"s":26,"x":3,"y":96},{"s":26,"x":4,"y":99},{"s":26,"x":5,"y":100}
],
"d5":[
{"s":1,"x":-5,"y":100},{"s":1,"x":-4,"y":100},{"s":1,"x":-3,"y":100},{"s":1,"x":-2,"y":100},{"s":1,"x":-1,"y":80},{"s":1,"x":0,"y":4},{"s":1,"x":1,"y":84},{"s":1,"x":2,"y":100},{"s":1,"x":3,"y":100},{"s":1,"x":4,"y":100},{"s":1,"x":5,"y":100},
{"s":2,"x":-5,"y":100},{"s":2,"x":-4,"y":100},{"s":2,"x":-3,"y":100},{"s":2,"x":-2,"y":99},{"s":2,"x":-1,"y":55},{"s":2,"x":0,"y":4},{"s":2,"x":1,"y":60},{"s":2,"x":2,"y":99},{"s":2,"x":3,"y":100},{"s":2,"x":4,"y":100},{"s":2,"x":5,"y":100},
{"s":3,"x":-5,"y":99},{"s":3,"x":-4,"y":98},{"s":3,"x":-3,"y":95},{"s":3,"x":-2,"y":88},{"s":3,"x":-1,"y":45},{"s":3,"x":0,"y":4},{"s":3,"x":1,"y":45},{"s":3,"x":2,"y":90},{"s":3,"x":3,"y":98},{"s":3,"x":4,"y":100},{"s":3,"x":5,"y":100},
{"s":4,"x":-5,"y":97},{"s":4,"x":-4,"y":93},{"s":4,"x":-3,"y":85},{"s":4,"x":-2,"y":72},{"s":4,"x":-1,"y":35},{"s":4,"x":0,"y":4},{"s":4,"x":1,"y":35},{"s":4,"x":2,"y":75},{"s":4,"x":3,"y":92},{"s":4,"x":4,"y":98},{"s":4,"x":5,"y":99},
{"s":5,"x":-5,"y":93},{"s":5,"x":-4,"y":87},{"s":5,"x":-3,"y":75},{"s":5,"x":-2,"y":58},{"s":5,"x":-1,"y":26},{"s":5,"x":0,"y":4},{"s":5,"x":1,"y":26},{"s":5,"x":2,"y":60},{"s":5,"x":3,"y":82},{"s":5,"x":4,"y":93},{"s":5,"x":5,"y":98},
{"s":6,"x":-5,"y":87},{"s":6,"x":-4,"y":78},{"s":6,"x":-3,"y":62},{"s":6,"x":-2,"y":45},{"s":6,"x":-1,"y":18},{"s":6,"x":0,"y":4},{"s":6,"x":1,"y":18},{"s":6,"x":2,"y":45},{"s":6,"x":3,"y":70},{"s":6,"x":4,"y":85},{"s":6,"x":5,"y":95},
{"s":7,"x":-5,"y":78},{"s":7,"x":-4,"y":68},{"s":7,"x":-3,"y":50},{"s":7,"x":-2,"y":35},{"s":7,"x":-1,"y":13},{"s":7,"x":0,"y":4},{"s":7,"x":1,"y":13},{"s":7,"x":2,"y":35},{"s":7,"x":3,"y":55},{"s":7,"x":4,"y":75},{"s":7,"x":5,"y":88},
{"s":8,"x":-5,"y":65},{"s":8,"x":-4,"y":55},{"s":8,"x":-3,"y":40},{"s":8,"x":-2,"y":26},{"s":8,"x":-1,"y":9},{"s":8,"x":0,"y":4},{"s":8,"x":1,"y":9},{"s":8,"x":2,"y":26},{"s":8,"x":3,"y":42},{"s":8,"x":4,"y":60},{"s":8,"x":5,"y":78},
{"s":9,"x":-5,"y":50},{"s":9,"x":-4,"y":42},{"s":9,"x":-3,"y":30},{"s":9,"x":-2,"y":18},{"s":9,"x":-1,"y":7},{"s":9,"x":0,"y":4},{"s":9,"x":1,"y":7},{"s":9,"x":2,"y":18},{"s":9,"x":3,"y":30},{"s":9,"x":4,"y":45},{"s":9,"x":5,"y":62},
{"s":10,"x":-5,"y":35},{"s":10,"x":-4,"y":28},{"s":10,"x":-3,"y":20},{"s":10,"x":-2,"y":12},{"s":10,"x":-1,"y":6},{"s":10,"x":0,"y":4},{"s":10,"x":1,"y":6},{"s":10,"x":2,"y":12},{"s":10,"x":3,"y":20},{"s":10,"x":4,"y":32},{"s":10,"x":5,"y":45},
{"s":11,"x":-5,"y":18},{"s":11,"x":-4,"y":14},{"s":11,"x":-3,"y":10},{"s":11,"x":-2,"y":8},{"s":11,"x":-1,"y":5},{"s":11,"x":0,"y":4},{"s":11,"x":1,"y":5},{"s":11,"x":2,"y":8},{"s":11,"x":3,"y":12},{"s":11,"x":4,"y":20},{"s":11,"x":5,"y":30},
{"s":12,"x":-5,"y":0},{"s":12,"x":-4,"y":0},{"s":12,"x":-3,"y":0},{"s":12,"x":-2,"y":0},{"s":12,"x":-1,"y":1},{"s":12,"x":0,"y":3},{"s":12,"x":1,"y":0},{"s":12,"x":2,"y":0},{"s":12,"x":3,"y":0},{"s":12,"x":4,"y":0},{"s":12,"x":5,"y":0},
{"s":13,"x":-5,"y":100},{"s":13,"x":-4,"y":100},{"s":13,"x":-3,"y":100},{"s":13,"x":-2,"y":100},{"s":13,"x":-1,"y":82},{"s":13,"x":0,"y":5},{"s":13,"x":1,"y":88},{"s":13,"x":2,"y":100},{"s":13,"x":3,"y":100},{"s":13,"x":4,"y":100},{"s":13,"x":5,"y":100},
{"s":14,"x":-5,"y":99},{"s":14,"x":-4,"y":99},{"s":14,"x":-3,"y":98},{"s":14,"x":-2,"y":95},{"s":14,"x":-1,"y":70},{"s":14,"x":0,"y":4},{"s":14,"x":1,"y":75},{"s":14,"x":2,"y":98},{"s":14,"x":3,"y":99},{"s":14,"x":4,"y":99},{"s":14,"x":5,"y":100},
{"s":15,"x":-5,"y":90},{"s":15,"x":-4,"y":85},{"s":15,"x":-3,"y":78},{"s":15,"x":-2,"y":65},{"s":15,"x":-1,"y":40},{"s":15,"x":0,"y":5},{"s":15,"x":1,"y":55},{"s":15,"x":2,"y":85},{"s":15,"x":3,"y":90},{"s":15,"x":4,"y":95},{"s":15,"x":5,"y":98},
{"s":16,"x":-5,"y":60},{"s":16,"x":-4,"y":55},{"s":16,"x":-3,"y":48},{"s":16,"x":-2,"y":40},{"s":16,"x":-1,"y":30},{"s":16,"x":0,"y":4},{"s":16,"x":1,"y":30},{"s":16,"x":2,"y":45},{"s":16,"x":3,"y":55},{"s":16,"x":4,"y":60},{"s":16,"x":5,"y":65},
{"s":17,"x":-5,"y":5},{"s":17,"x":-4,"y":5},{"s":17,"x":-3,"y":4},{"s":17,"x":-2,"y":4},{"s":17,"x":-1,"y":4},{"s":17,"x":0,"y":4},{"s":17,"x":1,"y":5},{"s":17,"x":2,"y":6},{"s":17,"x":3,"y":8},{"s":17,"x":4,"y":10},{"s":17,"x":5,"y":15},
{"s":18,"x":-5,"y":98},{"s":18,"x":-4,"y":96},{"s":18,"x":-3,"y":92},{"s":18,"x":-2,"y":85},{"s":18,"x":-1,"y":60},{"s":18,"x":0,"y":3},{"s":18,"x":1,"y":65},{"s":18,"x":2,"y":90},{"s":18,"x":3,"y":97},{"s":18,"x":4,"y":99},{"s":18,"x":5,"y":99},
{"s":19,"x":-5,"y":1},{"s":19,"x":-4,"y":1},{"s":19,"x":-3,"y":1},{"s":19,"x":-2,"y":2},{"s":19,"x":-1,"y":2},{"s":19,"x":0,"y":3},{"s":19,"x":1,"y":0},{"s":19,"x":2,"y":0},{"s":19,"x":3,"y":0},{"s":19,"x":4,"y":0},{"s":19,"x":5,"y":0},
{"s":20,"x":-5,"y":75},{"s":20,"x":-4,"y":70},{"s":20,"x":-3,"y":62},{"s":20,"x":-2,"y":52},{"s":20,"x":-1,"y":30},{"s":20,"x":0,"y":5},{"s":20,"x":1,"y":30},{"s":20,"x":2,"y":55},{"s":20,"x":3,"y":70},{"s":20,"x":4,"y":80},{"s":20,"x":5,"y":90},
{"s":21,"x":-5,"y":100},{"s":21,"x":-4,"y":100},{"s":21,"x":-3,"y":99},{"s":21,"x":-2,"y":97},{"s":21,"x":-1,"y":65},{"s":21,"x":0,"y":4},{"s":21,"x":1,"y":70},{"s":21,"x":2,"y":97},{"s":21,"x":3,"y":100},{"s":21,"x":4,"y":100},{"s":21,"x":5,"y":100},
{"s":22,"x":-5,"y":88},{"s":22,"x":-4,"y":82},{"s":22,"x":-3,"y":72},{"s":22,"x":-2,"y":58},{"s":22,"x":-1,"y":35},{"s":22,"x":0,"y":4},{"s":22,"x":1,"y":40},{"s":22,"x":2,"y":68},{"s":22,"x":3,"y":82},{"s":22,"x":4,"y":92},{"s":22,"x":5,"y":97},
{"s":23,"x":-5,"y":70},{"s":23,"x":-4,"y":62},{"s":23,"x":-3,"y":52},{"s":23,"x":-2,"y":42},{"s":23,"x":-1,"y":25},{"s":23,"x":0,"y":4},{"s":23,"x":1,"y":22},{"s":23,"x":2,"y":40},{"s":23,"x":3,"y":58},{"s":23,"x":4,"y":72},{"s":23,"x":5,"y":84},
{"s":24,"x":-5,"y":45},{"s":24,"x":-4,"y":38},{"s":24,"x":-3,"y":30},{"s":24,"x":-2,"y":24},{"s":24,"x":-1,"y":15},{"s":24,"x":0,"y":4},{"s":24,"x":1,"y":15},{"s":24,"x":2,"y":25},{"s":24,"x":3,"y":38},{"s":24,"x":4,"y":52},{"s":24,"x":5,"y":68},
{"s":25,"x":-5,"y":25},{"s":25,"x":-4,"y":22},{"s":25,"x":-3,"y":18},{"s":25,"x":-2,"y":14},{"s":25,"x":-1,"y":10},{"s":25,"x":0,"y":4},{"s":25,"x":1,"y":10},{"s":25,"x":2,"y":15},{"s":25,"x":3,"y":22},{"s":25,"x":4,"y":30},{"s":25,"x":5,"y":40},
{"s":26,"x":-5,"y":95},{"s":26,"x":-4,"y":92},{"s":26,"x":-3,"y":88},{"s":26,"x":-2,"y":80},{"s":26,"x":-1,"y":50},{"s":26,"x":0,"y":4},{"s":26,"x":1,"y":78},{"s":26,"x":2,"y":97},{"s":26,"x":3,"y":99},{"s":26,"x":4,"y":100},{"s":26,"x":5,"y":100}
]
},
"spacing":5,
"vconcat":[
{"spacing":6,"hconcat":[
{"spacing":0,"vconcat":[
{"width":300,"height":25,"view":{"fill":"#d9d9d9","stroke":"#333333","strokeWidth":1.3},"data":{"values":[{}]},"mark":{"type":"text","text":"ML w/ Wald","fontSize":12.3,"color":"#1a1a1a"},"encoding":{}},
{"width":300,"height":201,"layer":[
{"data":{"name":"d1"},"mark":{"type":"line","stroke":"#000000","strokeOpacity":0.2,"strokeWidth":0.7},"encoding":{
"x":{"field":"x","type":"quantitative","scale":{"domain":[-5.5,5.5],"nice":false,"zero":false},"axis":{"title":null,"values":[-5,-3.75,-2.5,-1.25,0,1.25,2.5,3.75,5],"labelExpr":"abs(datum.value/1.25)%2==1?'':format(datum.value,'.1f')","tickOpacity":{"condition":{"test":"abs(datum.value/1.25)%2==1","value":0},"value":1},"gridWidth":{"condition":{"test":"abs(datum.value/1.25)%2==1","value":0.7},"value":1.4}}},
"y":{"field":"y","type":"quantitative","scale":{"domain":[-5,105],"nice":false,"zero":false},"axis":{"title":null,"values":[0,12.5,25,37.5,50,62.5,75,87.5,100],"labelExpr":"datum.value%25==0?datum.value+'%':''","tickOpacity":{"condition":{"test":"datum.value%25!=0","value":0},"value":1},"gridWidth":{"condition":{"test":"datum.value%25!=0","value":0.7},"value":1.4}}},
"detail":{"field":"s"}}},
{"data":{"values":[{}]},"mark":{"type":"rule","color":"#000000","strokeWidth":2},"encoding":{"y":{"datum":5}}}
]}
]},
{"spacing":0,"vconcat":[
{"width":300,"height":25,"view":{"fill":"#d9d9d9","stroke":"#333333","strokeWidth":1.3},"data":{"values":[{}]},"mark":{"type":"text","text":"ML w/ LR","fontSize":12.3,"color":"#1a1a1a"},"encoding":{}},
{"width":300,"height":201,"layer":[
{"data":{"name":"d2"},"mark":{"type":"line","stroke":"#000000","strokeOpacity":0.2,"strokeWidth":0.7},"encoding":{
"x":{"field":"x","type":"quantitative","scale":{"domain":[-5.5,5.5],"nice":false,"zero":false},"axis":{"title":null,"values":[-5,-3.75,-2.5,-1.25,0,1.25,2.5,3.75,5],"labelExpr":"abs(datum.value/1.25)%2==1?'':format(datum.value,'.1f')","tickOpacity":{"condition":{"test":"abs(datum.value/1.25)%2==1","value":0},"value":1},"gridWidth":{"condition":{"test":"abs(datum.value/1.25)%2==1","value":0.7},"value":1.4}}},
"y":{"field":"y","type":"quantitative","scale":{"domain":[-5,105],"nice":false,"zero":false},"axis":{"title":null,"values":[0,12.5,25,37.5,50,62.5,75,87.5,100],"labelExpr":"datum.value%25==0?datum.value+'%':''","tickOpacity":{"condition":{"test":"datum.value%25!=0","value":0},"value":1},"gridWidth":{"condition":{"test":"datum.value%25!=0","value":0.7},"value":1.4}}},
"detail":{"field":"s"}}},
{"data":{"values":[{}]},"mark":{"type":"rule","color":"#000000","strokeWidth":2},"encoding":{"y":{"datum":5}}}
]}
]},
{"spacing":0,"vconcat":[
{"width":300,"height":25,"view":{"fill":"#d9d9d9","stroke":"#333333","strokeWidth":1.3},"data":{"values":[{}]},"mark":{"type":"text","text":"ML w/ Score","fontSize":12.3,"color":"#1a1a1a"},"encoding":{}},
{"width":300,"height":201,"layer":[
{"data":{"name":"d3"},"mark":{"type":"line","stroke":"#000000","strokeOpacity":0.2,"strokeWidth":0.7},"encoding":{
"x":{"field":"x","type":"quantitative","scale":{"domain":[-5.5,5.5],"nice":false,"zero":false},"axis":{"title":null,"values":[-5,-3.75,-2.5,-1.25,0,1.25,2.5,3.75,5],"labelExpr":"abs(datum.value/1.25)%2==1?'':format(datum.value,'.1f')","tickOpacity":{"condition":{"test":"abs(datum.value/1.25)%2==1","value":0},"value":1},"gridWidth":{"condition":{"test":"abs(datum.value/1.25)%2==1","value":0.7},"value":1.4}}},
"y":{"field":"y","type":"quantitative","scale":{"domain":[-5,105],"nice":false,"zero":false},"axis":{"title":null,"values":[0,12.5,25,37.5,50,62.5,75,87.5,100],"labelExpr":"datum.value%25==0?datum.value+'%':''","tickOpacity":{"condition":{"test":"datum.value%25!=0","value":0},"value":1},"gridWidth":{"condition":{"test":"datum.value%25!=0","value":0.7},"value":1.4}}},
"detail":{"field":"s"}}},
{"data":{"values":[{}]},"mark":{"type":"rule","color":"#000000","strokeWidth":2},"encoding":{"y":{"datum":5}}}
]}
]}
]},
{"spacing":6,"hconcat":[
{"width":300,"height":226,"view":{"stroke":null},"data":{"values":[{"y":0}]},"mark":{"type":"point","opacity":0},"encoding":{"y":{"field":"y","type":"quantitative","scale":{"domain":[-5,105],"nice":false},"axis":{"title":null,"values":[0,100],"labelExpr":"datum.value+'%'","labelColor":"transparent","tickOpacity":0,"grid":false}}}},
{"spacing":0,"vconcat":[
{"width":300,"height":25,"view":{"fill":"#d9d9d9","stroke":"#333333","strokeWidth":1.3},"data":{"values":[{}]},"mark":{"type":"text","text":"PML (Cauchy) w/ Wald","fontSize":12.3,"color":"#1a1a1a"},"encoding":{}},
{"width":300,"height":202,"layer":[
{"data":{"name":"d4"},"mark":{"type":"line","stroke":"#000000","strokeOpacity":0.2,"strokeWidth":0.7},"encoding":{
"x":{"field":"x","type":"quantitative","scale":{"domain":[-5.5,5.5],"nice":false,"zero":false},"axis":{"title":"Coefficient of Potentially Separating Variable","values":[-5,-3.75,-2.5,-1.25,0,1.25,2.5,3.75,5],"labelExpr":"abs(datum.value/1.25)%2==1?'':format(datum.value,'.1f')","tickOpacity":{"condition":{"test":"abs(datum.value/1.25)%2==1","value":0},"value":1},"gridWidth":{"condition":{"test":"abs(datum.value/1.25)%2==1","value":0.7},"value":1.4}}},
"y":{"field":"y","type":"quantitative","scale":{"domain":[-5,105],"nice":false,"zero":false},"axis":{"title":null,"values":[0,12.5,25,37.5,50,62.5,75,87.5,100],"labelExpr":"datum.value%25==0?datum.value+'%':''","tickOpacity":{"condition":{"test":"datum.value%25!=0","value":0},"value":1},"gridWidth":{"condition":{"test":"datum.value%25!=0","value":0.7},"value":1.4}}},
"detail":{"field":"s"}}},
{"data":{"values":[{}]},"mark":{"type":"rule","color":"#000000","strokeWidth":2},"encoding":{"y":{"datum":5}}}
]}
]},
{"spacing":0,"vconcat":[
{"width":300,"height":25,"view":{"fill":"#d9d9d9","stroke":"#333333","strokeWidth":1.3},"data":{"values":[{}]},"mark":{"type":"text","text":"PML (Firth) w/ Wald","fontSize":12.3,"color":"#1a1a1a"},"encoding":{}},
{"width":300,"height":202,"layer":[
{"data":{"name":"d5"},"mark":{"type":"line","stroke":"#000000","strokeOpacity":0.2,"strokeWidth":0.7},"encoding":{
"x":{"field":"x","type":"quantitative","scale":{"domain":[-5.5,5.5],"nice":false,"zero":false},"axis":{"title":null,"values":[-5,-3.75,-2.5,-1.25,0,1.25,2.5,3.75,5],"labelExpr":"abs(datum.value/1.25)%2==1?'':format(datum.value,'.1f')","tickOpacity":{"condition":{"test":"abs(datum.value/1.25)%2==1","value":0},"value":1},"gridWidth":{"condition":{"test":"abs(datum.value/1.25)%2==1","value":0.7},"value":1.4}}},
"y":{"field":"y","type":"quantitative","scale":{"domain":[-5,105],"nice":false,"zero":false},"axis":{"title":null,"values":[0,12.5,25,37.5,50,62.5,75,87.5,100],"labelExpr":"datum.value%25==0?datum.value+'%':''","tickOpacity":{"condition":{"test":"datum.value%25!=0","value":0},"value":1},"gridWidth":{"condition":{"test":"datum.value%25!=0","value":0.7},"value":1.4}}},
"detail":{"field":"s"}}},
{"data":{"values":[{}]},"mark":{"type":"rule","color":"#000000","strokeWidth":2},"encoding":{"y":{"datum":5}}}
]}
]}
]}
]
}
